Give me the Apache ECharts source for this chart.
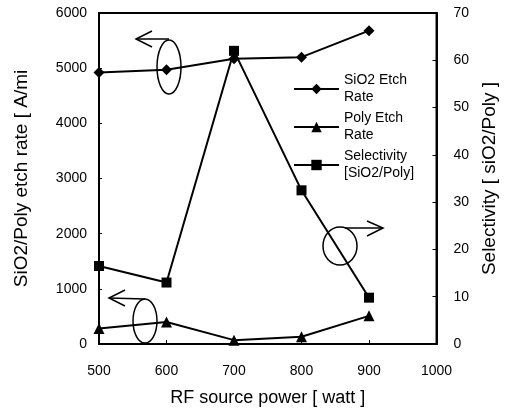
<!DOCTYPE html>
<html><head><meta charset="utf-8">
<script src="https://cdn.jsdelivr.net/npm/echarts@6/dist/echarts.min.js"></script>
<style>html,body{margin:0;padding:0;background:#fff}#c{width:507px;height:414px}</style>
</head><body><div id="c"></div>
<script>
var powers = [500, 600, 700, 800, 900];
var sio2Etch = [4920, 4970, 5170, 5200, 5680];
var polyEtch = [280, 400, 70, 130, 510];
var selectivity = [16.5, 13, 62, 32.5, 9.8];
var xTicks = [500, 600, 700, 800, 900, 1000];
var leftTicks = [0, 1000, 2000, 3000, 4000, 5000, 6000];
var rightTicks = [0, 10, 20, 30, 40, 50, 60, 70];

function pairs(xs, ys){ return xs.map(function(x,i){ return [x, ys[i]]; }); }
function plain(v){ return String(v); }

var chart = echarts.init(document.getElementById('c'));
var font = 'Liberation Sans, Arial, sans-serif';
var lab = {color:'#000', fontFamily: font, fontSize: 14, formatter: plain};
var line = {lineStyle:{color:'#000', width:2}};
chart.setOption({
  animation:false,
  backgroundColor:'#fff',
  grid:{left:99, right:65, top:13, bottom:70, show:true, borderColor:'#000', borderWidth:2},
  legend:{
    orient:'vertical', left:288, top:67, itemWidth:45, itemHeight:13, itemGap:4,
    textStyle:{color:'#000', fontFamily:font, fontSize:14, lineHeight:17},
    data:['SiO2 Etch\nRate','Poly Etch\nRate','Selectivity\n[SiO2/Poly]']
  },
  xAxis:{type:'value', min:xTicks[0], max:xTicks[xTicks.length-1], interval:100,
    name:'RF source power [ watt ]', nameLocation:'middle', nameGap:45,
    nameTextStyle:{color:'#000', fontFamily:font, fontSize:18},
    axisLine:line, axisTick:{inside:true, length:4, lineStyle:{color:'#000'}},
    axisLabel:Object.assign({margin:20}, lab), splitLine:{show:false}},
  yAxis:[{type:'value', min:leftTicks[0], max:leftTicks[leftTicks.length-1], interval:1000,
    name:'SiO2/Poly etch rate [ A/mi', nameLocation:'middle', nameGap:68,
    nameTextStyle:{color:'#000', fontFamily:font, fontSize:19},
    axisLine:line, axisTick:{inside:true, length:3, lineStyle:{color:'#000'}},
    axisLabel:Object.assign({margin:12}, lab), splitLine:{show:false}},
   {type:'value', min:rightTicks[0], max:rightTicks[rightTicks.length-1], interval:10, position:'right',
    name:'Selectivity [ siO2/Poly ]', nameLocation:'middle', nameGap:43,
    nameTextStyle:{color:'#000', fontFamily:font, fontSize:19},
    axisLine:line, axisTick:{inside:true, length:4, lineStyle:{color:'#000'}},
    axisLabel:Object.assign({margin:17}, lab), splitLine:{show:false}}],
  series:[
    {name:'SiO2 Etch\nRate', type:'line', data:pairs(powers, sio2Etch), symbol:'diamond', symbolSize:11,
     lineStyle:{color:'#000', width:2}, itemStyle:{color:'#000'}},
    {name:'Poly Etch\nRate', type:'line', data:pairs(powers, polyEtch), symbol:'triangle', symbolSize:11,
     lineStyle:{color:'#000', width:2}, itemStyle:{color:'#000'}},
    {name:'Selectivity\n[SiO2/Poly]', type:'line', yAxisIndex:1, data:pairs(powers, selectivity), symbol:'rect', symbolSize:10,
     lineStyle:{color:'#000', width:2}, itemStyle:{color:'#000'}}
  ],
  graphic:[
    {type:'ellipse', shape:{cx:169, cy:67, rx:12, ry:27}, style:{fill:null, stroke:'#000', lineWidth:1.5}},
    {type:'polyline', shape:{points:[[169,39],[136,39]]}, style:{stroke:'#000', lineWidth:1.5, fill:null}},
    {type:'polyline', shape:{points:[[152,31],[136,39],[152,47]]}, style:{stroke:'#000', lineWidth:1.5, fill:null}},
    {type:'ellipse', shape:{cx:340, cy:246, rx:17, ry:19}, style:{fill:null, stroke:'#000', lineWidth:1.5}},
    {type:'polyline', shape:{points:[[345,228],[383,228]]}, style:{stroke:'#000', lineWidth:1.5, fill:null}},
    {type:'polyline', shape:{points:[[367,221],[383,228],[367,236]]}, style:{stroke:'#000', lineWidth:1.5, fill:null}},
    {type:'ellipse', shape:{cx:145, cy:321, rx:12, ry:22}, style:{fill:null, stroke:'#000', lineWidth:1.5}},
    {type:'polyline', shape:{points:[[145,299],[109,298]]}, style:{stroke:'#000', lineWidth:1.5, fill:null}},
    {type:'polyline', shape:{points:[[125,290],[109,298],[125,306]]}, style:{stroke:'#000', lineWidth:1.5, fill:null}}
  ]
});
</script></body></html>
